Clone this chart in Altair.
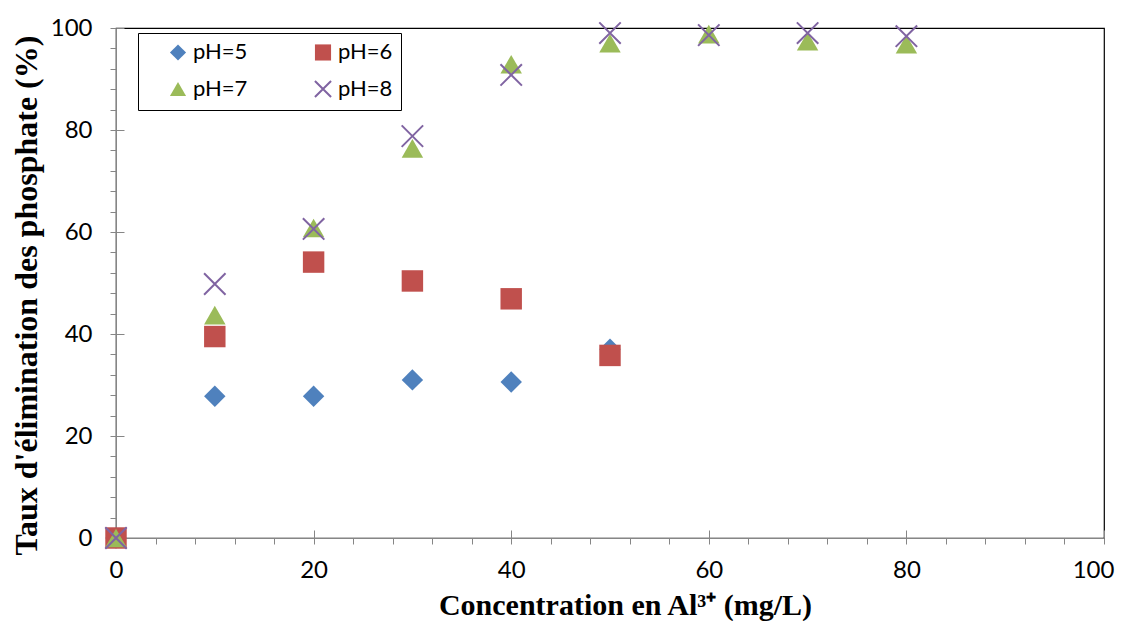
import altair as alt
import pandas as pd

# ---- data ----
series_names = ["pH=5", "pH=6", "pH=7", "pH=8"]
conc_ph5 = [0, 10, 20, 30, 40, 50]
val_ph5 = [0, 27.8, 27.8, 31.0, 30.6, 37.0]
conc_ph6 = [0, 10, 20, 30, 40, 50]
val_ph6 = [0, 39.5, 54.1, 50.4, 46.9, 35.8]
conc_ph7 = [0, 10, 20, 30, 40, 50, 60, 70, 80]
val_ph7 = [0, 43.7, 60.8, 76.4, 92.9, 97.0, 98.8, 97.4, 96.8]
conc_ph8 = [0, 10, 20, 30, 40, 50, 60, 70, 80]
val_ph8 = [0, 49.8, 60.6, 78.8, 90.8, 99.0, 98.6, 99.0, 98.4]

tick_values = list(range(0, 101, 4))
major_ticks = [0, 20, 40, 60, 80, 100]

fill_colors = ["#4F81BD", "#C0504D", "#9BBB59", "transparent"]
stroke_colors = ["transparent", "transparent", "transparent", "#8064A2"]
shapes = ["diamond", "square", "triangle-up", "M-1,-1L1,1M-1,1L1,-1"]

rows = []
for name, xs, ys in zip(series_names,
                        [conc_ph5, conc_ph6, conc_ph7, conc_ph8],
                        [val_ph5, val_ph6, val_ph7, val_ph8]):
    for x, y in zip(xs, ys):
        rows.append({"series": name, "conc": x, "taux": y})
df = pd.DataFrame(rows)

legend = alt.Legend(
    title=None, orient="none", legendX=22, legendY=5, direction="horizontal",
    columns=2, columnPadding=43, rowPadding=11, padding=8,
    strokeColor="black", fillColor="white",
    labelFont="Lato", labelFontSize=22, labelColor="black",
    symbolSize=260, symbolStrokeWidth=2, symbolOffset=21, labelOffset=4,
)

xscale = alt.Scale(domain=[0, 100], nice=False)
yscale = alt.Scale(domain=[0, 100], nice=False)

axis_common = dict(
    values=tick_values, labelExpr="datum.value % 20 == 0 ? datum.label : ''",
    grid=False, domainColor="#868686", tickColor="#868686", tickSize=6,
    labelFont="Lato", labelFontSize=24, labelColor="black", labelFlush=False,
    titleFont="Liberation Serif", titleFontWeight="bold",
    titleColor="black",
)

points = alt.Chart(df).mark_point(size=460, strokeWidth=2, opacity=1, fillOpacity=1).encode(
    x=alt.X("conc:Q", scale=xscale,
            axis=alt.Axis(title="Concentration en Al³⁺ (mg/L)", labelPadding=14,
                          labelOffset=alt.condition("datum.value == 100", alt.value(-11), alt.value(0)),
                          titleFontSize=30,
                          titleX=509, titleY=76, titleBaseline="alphabetic",
                          titleAlign="center", **axis_common)),
    y=alt.Y("taux:Q", scale=yscale,
            axis=alt.Axis(title="Taux d'élimination des phosphate (%)", labelPadding=18,
                          titleFontSize=32,
                          titleX=-90, titleY=267, titleAngle=-90, titleBaseline="middle",
                          titleAlign="center", **axis_common)),
    shape=alt.Shape("series:N", scale=alt.Scale(domain=series_names, range=shapes), legend=legend),
    fill=alt.Fill("series:N", scale=alt.Scale(domain=series_names, range=fill_colors), legend=legend),
    stroke=alt.Stroke("series:N", scale=alt.Scale(domain=series_names, range=stroke_colors), legend=legend),
    order=alt.Order("series:N"),
)

inner_ticks = alt.Chart(df).mark_point(opacity=0).encode(
    x=alt.X("conc:Q", scale=xscale,
            axis=alt.Axis(orient="top", offset=-510, values=major_ticks, labels=False,
                          domain=False, grid=False, tickSize=8, tickColor="#868686", title=None)),
    y=alt.Y("taux:Q", scale=yscale,
            axis=alt.Axis(orient="right", offset=-988, values=major_ticks, labels=False,
                          domain=False, grid=False, tickSize=8, tickColor="#868686", title=None)),
)

chart = alt.layer(points, inner_ticks).resolve_axis(x="independent", y="independent").properties(
    width=988, height=510,
    autosize=alt.AutoSizeParams(type="none"),
    padding={"left": 108, "top": 20, "right": 13, "bottom": 83},
    background="white",
).configure_view(stroke="black", strokeWidth=1.2)

chart.save("out.html", embed_options={"renderer": "svg", "actions": False})
